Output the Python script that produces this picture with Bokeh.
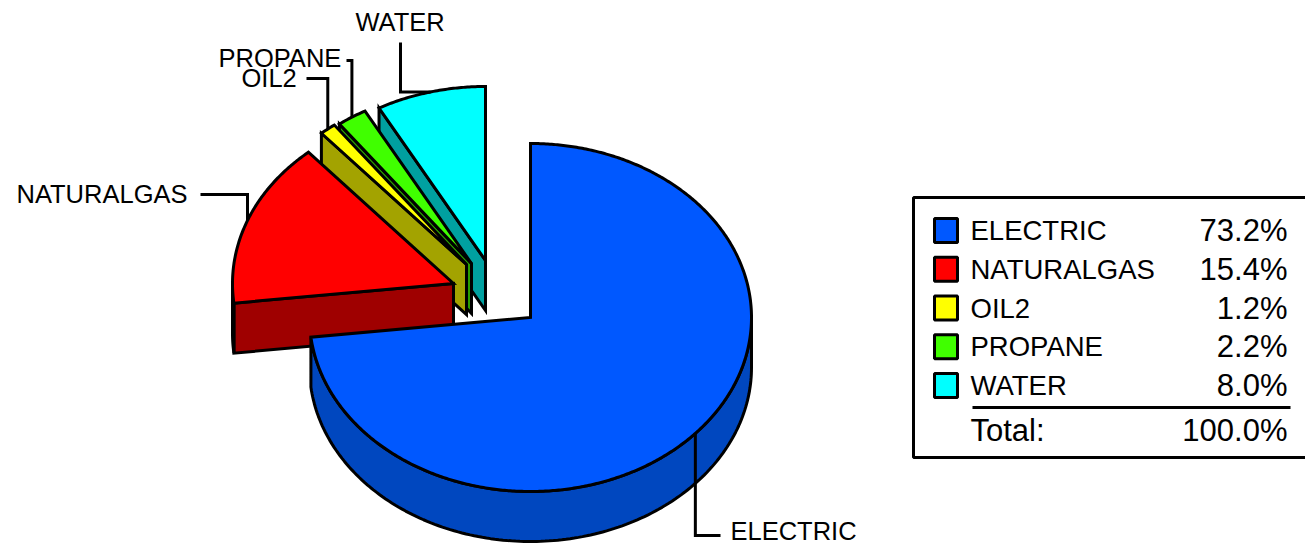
import numpy as np
from bokeh.plotting import figure
from bokeh.embed import file_html
from bokeh.resources import INLINE
from bokeh.core.properties import value

# --- data ---
categories = ["ELECTRIC", "NATURALGAS", "OIL2", "PROPANE", "WATER"]
shares = [73.2, 15.4, 1.2, 2.2, 8.0]
share_labels = ["73.2%", "15.4%", "1.2%", "2.2%", "8.0%"]
total_label = "100.0%"

# --- styles ---
top_colors = ["#0058FF", "#FF0000", "#FFFF00", "#40FF00", "#00FFFF"]
side_colors = ["#0047BF", "#9F0000", "#A3A300", "#2A9F00", "#00A0A0"]
FONT = "Liberation Sans"
NAME_SIZE, PCT_SIZE, LABEL_SIZE = "27.5px", "31px", "25.5px"

# --- layout ---
W, H = 1305, 543
CX, CY, RX, RY, DEPTH = 530, 317, 221, 174, 50
explode = [(0, 0), (-77, -34), (-64, -53), (-59, -54), (-45, -57)]
label_pos = [(730, 530), (16, 193), (241, 77), (218, 57), (355, 21)]
leader_end = [(720, 535), (200, 194), (306, 78), (346, 60), (400, 42)]
elbow_first = ["v", "v", "v", "v", "h"]

p = figure(width=W, height=H, x_range=(0, W), y_range=(H, 0),
           output_backend="svg", toolbar_location=None,
           min_border=0, outline_line_color=None, margin=(0, 0, 0, 0))
p.xaxis.visible = False
p.yaxis.visible = False
p.grid.visible = False


def pt(cx, cy, deg):
    a = np.radians(deg)
    return cx + RX * np.sin(a), cy - RY * np.cos(a)


edges = np.concatenate([[0], np.cumsum(shares)]) / sum(shares) * 360
LW = 3

for i in [4, 3, 2, 1, 0]:
    a0, a1 = edges[i], edges[i + 1]
    cx, cy = CX + explode[i][0], CY + explode[i][1]
    if i != 0:
        ox, oy = pt(cx, cy, a0)
        p.patch([cx, ox, ox, cx], [cy, oy, oy + DEPTH, cy + DEPTH],
                fill_color=side_colors[i], line_color="black", line_width=LW, line_join="miter")
    r0, r1 = max(a0, 90), min(a1, 270)
    if r1 > r0:
        t = np.linspace(r0, r1, 160)
        xs, ys = pt(cx, cy, t)
        p.patch(np.r_[xs, xs[::-1]], np.r_[ys, ys[::-1] + DEPTH],
                fill_color=side_colors[i], line_color="black", line_width=LW)
    t = np.linspace(a0, a1, max(int(a1 - a0) * 2, 6))
    xs, ys = pt(cx, cy, t)
    p.patch(np.r_[cx, xs], np.r_[cy, ys],
            fill_color=top_colors[i], line_color="black", line_width=LW, line_join="miter")

for i, name in enumerate(categories):
    mid = (edges[i] + edges[i + 1]) / 2
    ax, ay = pt(CX + explode[i][0], CY + explode[i][1], mid)
    ex, ey = leader_end[i]
    if elbow_first[i] == "v":
        lx, ly = [ax, ax, ex], [ay, ey, ey]
    else:
        lx, ly = [ax, ex, ex], [ay, ay, ey]
    p.line(lx, ly, line_color="black", line_width=LW, line_join="miter")
    p.text([label_pos[i][0]], [label_pos[i][1]], text=[name], text_font=value(FONT),
           text_font_size=LABEL_SIZE, text_baseline="middle", text_align="left", text_color="black")

BOX_L, BOX_T, BOX_R, BOX_B = 913, 197, W + 6, 457
p.quad(left=[BOX_L], right=[BOX_R], top=[BOX_T], bottom=[BOX_B],
       fill_color="white", line_color="black", line_width=LW)
ROW0, ROW_STEP = 230, 38.75
SW_L, SW_R, SW_H = 934, 957, 24
TXT_X, PCT_X = 970, 1287
for i, name in enumerate(categories):
    y = ROW0 + ROW_STEP * i
    p.quad(left=[SW_L], right=[SW_R], top=[y - SW_H / 2], bottom=[y + SW_H / 2],
           fill_color=top_colors[i], line_color="black", line_width=LW)
    p.text([TXT_X], [y], text=[name], text_font=value(FONT), text_font_size=NAME_SIZE,
           text_baseline="middle", text_align="left", text_color="black")
    p.text([PCT_X], [y], text=[share_labels[i]], text_font=value(FONT), text_font_size=PCT_SIZE,
           text_baseline="middle", text_align="right", text_color="black")
RULE_Y = 407
p.line([972, 1290], [RULE_Y, RULE_Y], line_color="black", line_width=LW)
p.text([TXT_X], [430], text=["Total:"], text_font=value(FONT), text_font_size=PCT_SIZE,
       text_baseline="middle", text_align="left", text_color="black")
p.text([PCT_X], [430], text=[total_label], text_font=value(FONT), text_font_size=PCT_SIZE,
       text_baseline="middle", text_align="right", text_color="black")

open("out.html", "w").write(file_html(p, INLINE))
